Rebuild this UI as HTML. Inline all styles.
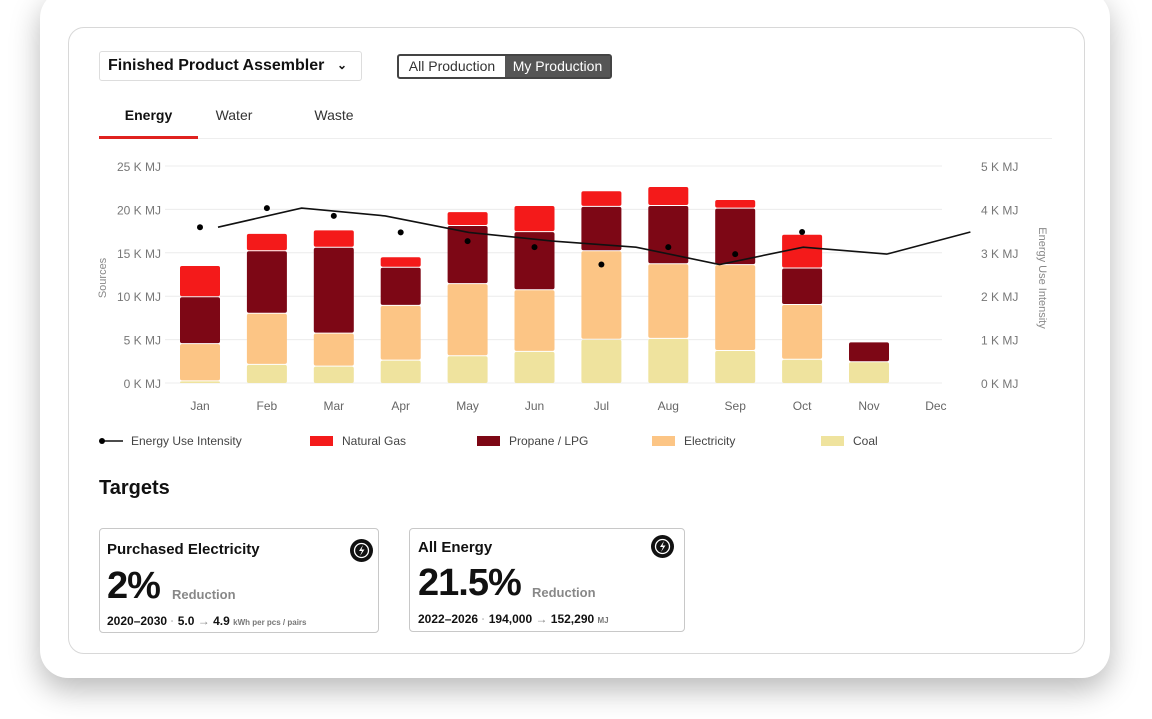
<!DOCTYPE html>
<html><head><meta charset="utf-8"><style>
body{margin:0;width:1152px;height:719px;background:#fff;font-family:"Liberation Sans",sans-serif;position:relative;overflow:hidden}
.outer{position:absolute;left:40px;top:-10px;width:1070px;height:688px;border-radius:28px;background:#fff;box-shadow:0 12px 30px rgba(0,0,0,0.28)}
.inner{position:absolute;left:68px;top:27px;width:1015px;height:625px;border:1px solid #d8d8d8;border-radius:16px;background:#fff}
.abs{position:absolute}
.card{position:absolute;border:1px solid #c8c8c8;border-radius:4px;background:#fff}
.bolt{position:absolute;width:23px;height:23px;border-radius:50%;background:#111}
</style></head><body>
<div class="outer"></div>
<div class="inner"></div>
<div class="abs" style="left:99px;top:51px;width:263px;height:30px;border:1px solid #ddd;border-radius:3px;box-sizing:border-box;font-size:16px;font-weight:bold;color:#111;line-height:28px;padding-left:8px">Finished Product Assembler<span style="position:absolute;right:14px;top:-1px;font-size:12px">&#8964;</span></div>
<div class="abs" style="left:397px;top:54px;width:215px;height:25px;border:2px solid #444;border-radius:3px;box-sizing:border-box;font-size:14px;line-height:21px;display:flex">
<span style="width:106px;text-align:center;color:#333">All Production</span>
<span style="flex:1;background:#555;color:#fff;text-align:center">My Production</span></div>
<div class="abs" style="left:99px;top:107px;width:99px;text-align:center;font-size:14px;font-weight:bold;color:#111">Energy</div>
<div class="abs" style="left:198px;top:107px;width:72px;text-align:center;font-size:14px;color:#333">Water</div>
<div class="abs" style="left:298px;top:107px;width:72px;text-align:center;font-size:14px;color:#333">Waste</div>
<div class="abs" style="left:99px;top:138px;width:953px;height:1px;background:#eee"></div>
<div class="abs" style="left:99px;top:136px;width:99px;height:3px;background:#e0221f"></div>

<svg class="abs" style="left:0;top:0" width="1152" height="719" id="chart"></svg>

<div class="abs" style="left:99px;top:477px;font-size:20px;font-weight:bold;color:#111">Targets</div>
<div class="card" style="left:99px;top:528px;width:278px;height:103px">
<div class="abs" style="left:7px;top:12px;font-size:15px;font-weight:bold;color:#111">Purchased Electricity</div>
<div class="bolt" style="left:250px;top:10px"><svg width="23" height="23"><circle cx="11.5" cy="11.5" r="7" fill="none" stroke="#fff" stroke-width="1.3"/><path d="M13 6 L9 12 L12 12 L10 17 L14.5 10.5 L11.5 10.5 Z" fill="#fff"/></svg></div>
<div class="abs" style="left:7px;top:36px;font-size:38px;font-weight:bold;color:#111;letter-spacing:-1px">2%</div>
<div class="abs" style="left:72px;top:58px;font-size:13px;font-weight:bold;color:#888">Reduction</div>
<div class="abs" style="left:7px;top:85px;font-size:12px;font-weight:bold;color:#111;white-space:nowrap">2020–2030 <span style="color:#ccc">·</span> 5.0 <span style="color:#888;font-weight:normal">→</span> 4.9 <span style="font-size:8px;color:#777">kWh per pcs / pairs</span></div>
</div>
<div class="card" style="left:409px;top:528px;width:274px;height:102px">
<div class="abs" style="left:8px;top:10px;font-size:15px;font-weight:bold;color:#111">All Energy</div>
<div class="bolt" style="left:241px;top:6px"><svg width="23" height="23"><circle cx="11.5" cy="11.5" r="7" fill="none" stroke="#fff" stroke-width="1.3"/><path d="M13 6 L9 12 L12 12 L10 17 L14.5 10.5 L11.5 10.5 Z" fill="#fff"/></svg></div>
<div class="abs" style="left:8px;top:33px;font-size:38px;font-weight:bold;color:#111;letter-spacing:-1px">21.5%</div>
<div class="abs" style="left:122px;top:56px;font-size:13px;font-weight:bold;color:#888">Reduction</div>
<div class="abs" style="left:8px;top:83px;font-size:12px;font-weight:bold;color:#111;white-space:nowrap">2022–2026 <span style="color:#ccc">·</span> 194,000 <span style="color:#888;font-weight:normal">→</span> 152,290 <span style="font-size:8px;color:#777">MJ</span></div>
</div>

<script>
const months=["Jan","Feb","Mar","Apr","May","Jun","Jul","Aug","Sep","Oct","Nov","Dec"];
const coal=[0.3,2.2,2.0,2.7,3.2,3.7,5.1,5.2,3.8,2.8,2.5,0];
const electricity=[4.3,5.9,3.8,6.3,8.3,7.1,10.2,8.6,9.9,6.3,0,0];
const propane=[5.4,7.2,9.9,4.4,6.7,6.7,5.1,6.7,6.5,4.2,2.3,0];
const naturalGas=[3.6,2.0,2.0,1.2,1.6,3.0,1.8,2.2,1.0,3.9,0,0];
const eui=[3.59,4.03,3.85,3.47,3.27,3.13,2.73,3.13,2.97,3.48];
const leftTicks=[0,5,10,15,20,25];
const rightTicks=[0,1,2,3,4,5];
const svg=document.getElementById('chart');const NS="http://www.w3.org/2000/svg";
function mk(t,a){const e=document.createElementNS(NS,t);for(const k in a)e.setAttribute(k,a[k]);svg.appendChild(e);return e;}
const y0=383,yTop=166;
const yL=v=>y0-(v/25)*(y0-yTop);
const yR=v=>y0-(v/5)*(y0-yTop);
const xM=i=>200+i*66.9;
const xLine=i=>218+i*83.6;
leftTicks.forEach(t=>{
 const g=mk('line',{x1:165,x2:942,y1:yL(t),y2:yL(t),stroke:'#ececec'});
 
 
 const tx=mk('text',{x:161,y:yL(t)+5,'text-anchor':'end','font-size':12,fill:'#777'});tx.textContent=t+' K MJ';
 
 
});
rightTicks.forEach(t=>{
 const tx=mk('text',{x:981,y:yR(t)+5,'font-size':12,fill:'#777'});tx.textContent=t+' K MJ';
 
 
});
let yt=mk('text',{x:0,y:0,'font-size':11,fill:'#888','text-anchor':'middle',transform:'translate(106,278) rotate(-90)'});yt.textContent='Sources';


yt=mk('text',{x:0,y:0,'font-size':11,fill:'#888','text-anchor':'middle',transform:'translate(1039,278) rotate(90)'});yt.textContent='Energy Use Intensity';


months.forEach((m,i)=>{
 const tx=mk('text',{x:xM(i),y:410,'text-anchor':'middle','font-size':12,fill:'#666'});tx.textContent=m;
 
 
});
const series=[[coal,'#efe39e','coal'],[electricity,'#fcc585','electricity'],[propane,'#7d0715','propane'],[naturalGas,'#f41a1a','natural-gas']];
months.forEach((m,i)=>{
 let base=0;
 series.forEach(([arr,c,n])=>{
  const v=arr[i];if(v>0){
   const yb=yL(base),yt2=yL(base+v);
   const r=mk('rect',{x:xM(i)-20,y:yt2+1,width:40,height:Math.max(0,yb-yt2-1),rx:2,fill:c});
   
   
  }
  base+=v;
 });
});
const pl=mk('polyline',{points:eui.map((v,i)=>xLine(i)+','+yR(v)).join(' '),fill:'none',stroke:'#111','stroke-width':1.6});


eui.forEach((v,i)=>{
 const c=mk('circle',{cx:xM(i),cy:yR(v),r:3,fill:'#000'});
 
 
});
const legend=[['Energy Use Intensity',null,99],['Natural Gas','#f41a1a',310],['Propane / LPG','#7d0715',477],['Electricity','#fcc585',652],['Coal','#efe39e',821]];
legend.forEach(([lab,c,x])=>{
 if(c){const r=mk('rect',{x:x,y:436,width:23,height:10,fill:c});
  
  }
 else{mk('line',{x1:x+2,x2:x+24,y1:441,y2:441,stroke:'#111','stroke-width':1.5});mk('circle',{cx:x+3,cy:441,r:3,fill:'#000'});}
 const t=mk('text',{x:x+32,y:445,'font-size':12,fill:'#444'});t.textContent=lab;
 
 
});
</script>
</body></html>
